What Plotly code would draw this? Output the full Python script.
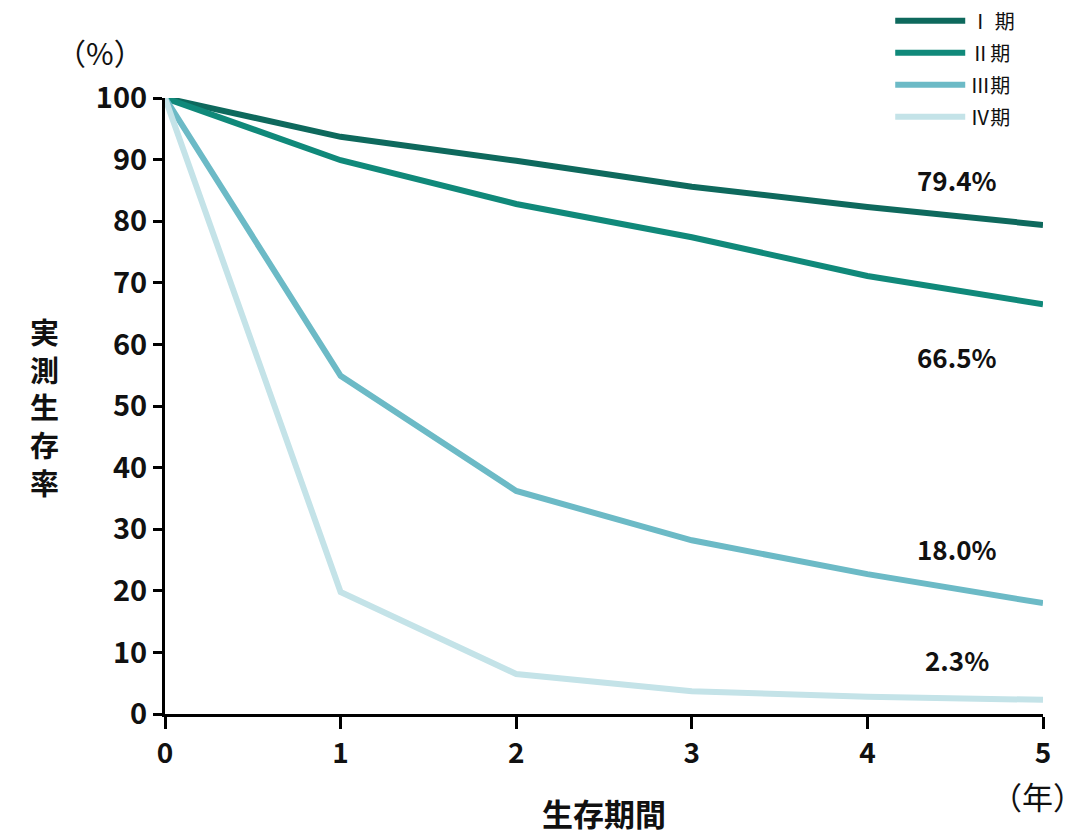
import plotly.graph_objects as go

years = [0, 1, 2, 3, 4, 5]
stage_names = ["Ⅰ 期", "Ⅱ期", "Ⅲ期", "Ⅳ期"]
stage1 = [100, 93.7, 89.8, 85.6, 82.3, 79.4]
stage2 = [100, 89.9, 82.8, 77.4, 71.1, 66.5]
stage3 = [100, 54.9, 36.2, 28.2, 22.7, 18.0]
stage4 = [100, 19.8, 6.5, 3.7, 2.8, 2.3]
colors = ["#0e695d", "#10897a", "#6cbac6", "#c4e3e8"]
end_labels = ["79.4%", "66.5%", "18.0%", "2.3%"]
label_y = [86.7, 58.0, 26.8, 8.9]

FONT = "Noto Sans CJK JP"
fig = go.Figure()
for i, (name, vals, c) in enumerate(zip(stage_names, [stage1, stage2, stage3, stage4], colors)):
    fig.add_trace(go.Scatter(x=years, y=vals, mode="lines", name=name, legendgroup=f"g{i}",
                             line=dict(color=c, width=6), cliponaxis=False))

for t, yv in zip(end_labels, label_y):
    fig.add_annotation(x=4.51, y=yv, text=f"<b>{t}</b>", showarrow=False,
                       xanchor="center", yanchor="middle",
                       font=dict(size=26, color="#111", family=FONT))

def paper_note(x, y, text, size):
    fig.add_annotation(xref="paper", yref="paper", x=x, y=y, text=text,
                       showarrow=False, xanchor="center", yanchor="middle",
                       font=dict(size=size, color="#111", family=FONT))

paper_note(-0.074, 1.075, "（%）", 30)
paper_note(0.994, -0.133, "（年）", 31)
paper_note(0.5, -0.16, "<b>生存期間</b>", 31)
paper_note(-0.137, 0.5, "<b>実<br>測<br>生<br>存<br>率</b>", 29)

fig.update_layout(
    width=1068, height=827,
    margin=dict(l=157, r=33, t=90, b=121, autoexpand=False),
    paper_bgcolor="white", plot_bgcolor="white",
    font=dict(family=FONT, color="#111"),
    showlegend=True,
    legend=dict(x=0.826, y=1.157, xanchor="left", yanchor="top",
                font=dict(size=20, family=FONT, color="#111"),
                bgcolor="rgba(0,0,0,0)", tracegroupgap=3, itemwidth=70),
    xaxis=dict(range=[0, 5.0], tickmode="array", tickvals=years,
               ticktext=[f"<b>{v}</b>" for v in years],
               showline=True, linecolor="black", linewidth=3,
               ticks="outside", ticklen=12, tickwidth=3, tickcolor="black",
               showgrid=False, zeroline=False,
               tickfont=dict(size=28, family=FONT, color="#111")),
    yaxis=dict(range=[0, 100], tickmode="array", tickvals=list(range(0, 101, 10)),
               ticktext=[f"<b>{v}</b>" for v in range(0, 101, 10)],
               showline=True, linecolor="black", linewidth=3,
               ticks="outside", ticklen=9, tickwidth=3, tickcolor="black",
               showgrid=False, zeroline=False,
               tickfont=dict(size=29, family=FONT, color="#111")),
)
fig.write_html("out.html")
